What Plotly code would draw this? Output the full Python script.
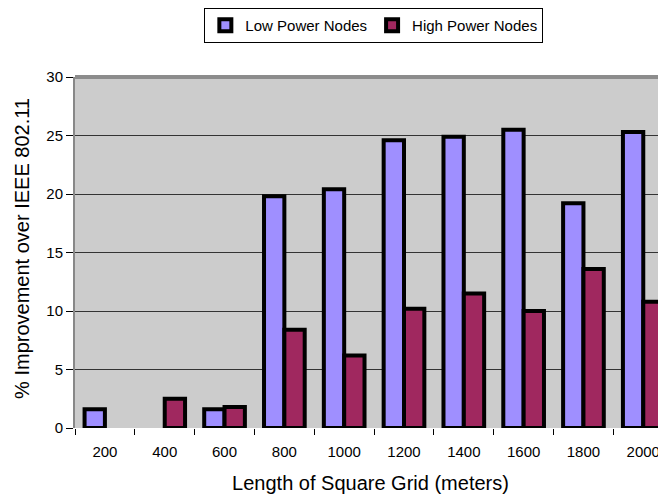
import plotly.graph_objects as go

grid_sizes = ["200", "400", "600", "800", "1000", "1200", "1400", "1600", "1800", "2000"]
low_power = [1.6, None, 1.6, 19.8, 20.4, 24.6, 24.9, 25.5, 19.2, 25.3]
high_power = [None, 2.5, 1.8, 8.4, 6.2, 10.2, 11.5, 10.0, 13.6, 10.8]

fig = go.Figure()
fig.add_trace(go.Bar(x=grid_sizes, y=low_power, name="Low Power Nodes",
                     marker=dict(color="#9f8fff", line=dict(color="black", width=4))))
fig.add_trace(go.Bar(x=grid_sizes, y=high_power, name="High Power Nodes",
                     marker=dict(color="#a0285f", line=dict(color="black", width=4))))

# page has an 8px body margin, so the figure is sized to the visible area
fig.update_layout(
    width=658, height=489,
    margin=dict(l=67, r=0, t=69, b=69, autoexpand=False),
    paper_bgcolor="white",
    plot_bgcolor="#cccccc",
    font=dict(family="Liberation Sans, Arial, sans-serif", color="black", size=15),
    barmode="group",
    bargap=0.32,
    bargroupgap=0,
    legend=dict(orientation="h", x=0.556, xref="container", xanchor="center",
                y=1.0, yref="container", yanchor="top",
                bordercolor="black", borderwidth=1, bgcolor="white",
                font=dict(size=15), itemwidth=30, tracegroupgap=0),
    xaxis=dict(type="category", range=[-0.5, 9.38], automargin=False,
               title=dict(text="Length of Square Grid (meters)", font=dict(size=20), standoff=16),
               showline=False, ticks="outside", ticklen=6, tickcolor="black",
               showgrid=False, tickson="boundaries", ticklabelstandoff=13),
    yaxis=dict(range=[0, 30], dtick=5, automargin=False,
               showgrid=True, gridcolor="#333333", gridwidth=1,
               showline=True, linecolor="#888888", linewidth=2,
               ticks="outside", ticklen=7, tickcolor="black", zeroline=False),
)

# y title as an annotation so it sits where the original does
fig.add_annotation(text="% Improvement over IEEE 802.11", textangle=-90,
                   xref="paper", yref="paper", x=-0.0897, y=0.513,
                   xanchor="center", yanchor="middle", showarrow=False,
                   font=dict(size=20))

# grey border along the top of the plot area
fig.add_shape(type="line", xref="paper", yref="paper", x0=0, x1=1, y0=1, y1=1,
              line=dict(color="#8c8c8c", width=4))

fig.write_html("out.html")
